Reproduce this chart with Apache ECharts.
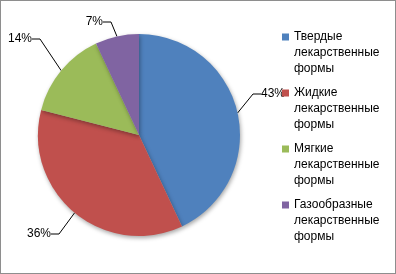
<!DOCTYPE html>
<html><head><meta charset="utf-8">
<script src="https://cdn.jsdelivr.net/npm/echarts@6/dist/echarts.min.js"></script>
<style>html,body{margin:0;padding:0;background:#fff}#c{width:396px;height:274px;box-sizing:border-box;border:1px solid #8e8e8e}</style>
</head><body><div id="c"></div>
<script>
const categories = ["Твердые\nлекарственные\nформы","Жидкие\nлекарственные\nформы","Мягкие\nлекарственные\nформы","Газообразные\nлекарственные\nформы"];
const values = [43, 36, 14, 7];
const colors = ["#4F81BD","#C0504D","#9BBB59","#8064A2"];
// label placement (layout only)
const labelPlace = [
  {x:260, y:93, align:'left'},
  {x:50, y:233, align:'right'},
  {x:31, y:38, align:'right'},
  {x:102, y:21, align:'right'}
];
const chart = echarts.init(document.getElementById('c'), null, {renderer:'canvas'});
chart.setOption({
  animation:false,
  color: colors,
  legend: {
    orient:'vertical', left:276, top:23,
    icon:'path://M0,0L0.01,0M0,4.5H7V11.5H0ZM0,48L0.01,48',
    itemWidth:7, itemHeight:48, itemGap:8, symbolKeepAspect:false,
    textStyle:{fontFamily:'Liberation Sans', fontSize:12, color:'#000', lineHeight:16},
    data: categories
  },
  series:[{
    type:'pie', center:[138,134], radius:101, startAngle:90, clockwise:true,
    data: categories.map((n,i)=>({name:n, value:values[i]})),
    label:{formatter:'{c}%', fontFamily:'Liberation Sans', fontSize:12, color:'#000', overflow:'none'},
    labelLine:{length:16, length2:8, lineStyle:{color:'#000', width:1}},
    labelLayout: function(p){
      const l = labelPlace[p.dataIndex];
      return {x:l.x, y:l.y, align:l.align, verticalAlign:'middle'};
    },
    itemStyle:{shadowBlur:4, shadowColor:'rgba(0,0,0,0.35)', shadowOffsetX:1, shadowOffsetY:2},
    emphasis:{disabled:true}
  }]
});
</script></body></html>
